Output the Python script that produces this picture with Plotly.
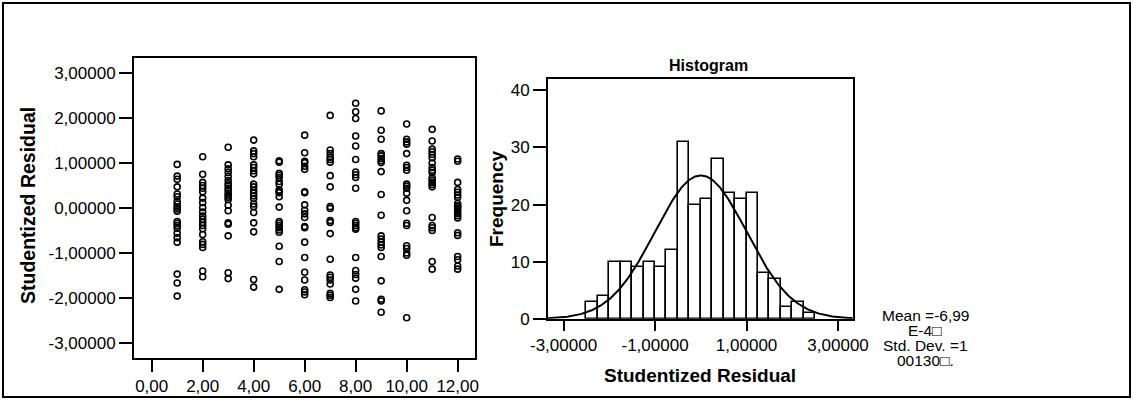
import math
import plotly.graph_objects as go

W, H = 1133, 401

# ---------------- data: studentized residuals by group (x = 1..12) ----------------
group_x = [1, 2, 3, 4, 5, 6, 7, 8, 9, 10, 11, 12]
g01 = [0.97, 0.71, 0.64, 0.47, 0.31, 0.25, 0.15, 0.09, 0.02, -0.02, -0.07, -0.30, -0.34, -0.39, -0.45, -0.56, -0.66, -0.76, -1.47, -1.67, -1.96]
g02 = [1.14, 0.75, 0.57, 0.50, 0.44, 0.36, 0.22, 0.12, 0.01, -0.09, -0.18, -0.25, -0.32, -0.39, -0.46, -0.59, -0.75, -0.81, -0.88, -1.40, -1.53]
g03 = [1.35, 0.96, 0.87, 0.79, 0.70, 0.61, 0.54, 0.50, 0.44, 0.39, 0.33, 0.28, 0.24, 0.19, 0.06, -0.06, -0.33, -0.36, -0.62, -1.44, -1.57]
g04 = [1.51, 1.27, 1.21, 1.14, 0.96, 0.90, 0.83, 0.76, 0.53, 0.47, 0.39, 0.33, 0.27, 0.21, 0.09, 0.03, -0.10, -0.33, -0.53, -1.59, -1.76]
g05 = [1.05, 1.02, 0.77, 0.73, 0.68, 0.59, 0.53, 0.40, 0.37, 0.34, 0.25, 0.02, -0.30, -0.34, -0.39, -0.44, -0.49, -0.54, -0.85, -1.19, -1.81]
g06 = [1.62, 1.23, 1.04, 1.01, 0.93, 0.86, 0.36, 0.34, 0.07, -0.05, -0.13, -0.21, -0.41, -0.44, -0.76, -1.10, -1.43, -1.60, -1.82, -1.87, -1.93]
g07 = [2.06, 1.29, 1.21, 1.13, 1.08, 1.02, 0.72, 0.47, 0.03, -0.01, -0.28, -0.32, -0.57, -1.14, -1.49, -1.54, -1.60, -1.69, -1.90, -1.94, -1.99]
g08 = [2.33, 2.14, 1.99, 1.60, 1.38, 1.08, 0.80, 0.74, 0.68, 0.44, -0.30, -0.34, -0.39, -0.44, -0.47, -1.10, -1.39, -1.48, -1.56, -1.81, -2.07]
g09 = [2.16, 1.73, 1.53, 1.21, 1.16, 1.10, 1.05, 1.01, 0.81, 0.30, -0.16, -0.62, -0.69, -0.76, -0.82, -0.88, -1.08, -1.62, -2.03, -2.07, -2.32]
g10 = [1.87, 1.53, 1.47, 1.42, 1.21, 0.95, 0.90, 0.84, 0.53, 0.49, 0.44, 0.33, 0.17, -0.06, -0.34, -0.39, -0.84, -0.90, -1.00, -1.05, -2.44]
g11 = [1.75, 1.49, 1.31, 1.25, 1.19, 1.12, 1.00, 0.90, 0.84, 0.79, 0.67, 0.62, 0.57, 0.52, 0.47, -0.21, -0.39, -0.44, -0.50, -1.19, -1.36]
g12 = [1.09, 1.04, 0.57, 0.41, 0.35, 0.29, 0.24, 0.10, 0.05, 0.03, -0.01, -0.06, -0.12, -0.17, -0.22, -0.55, -0.61, -1.08, -1.15, -1.29, -1.36]
groups = [g01, g02, g03, g04, g05, g06, g07, g08, g09, g10, g11, g12]

scatter_xticks = [0, 2, 4, 6, 8, 10, 12]
scatter_xticklabels = ["0,00", "2,00", "4,00", "6,00", "8,00", "10,00", "12,00"]
scatter_yticks = [-3, -2, -1, 0, 1, 2, 3]
scatter_yticklabels = ["-3,00000", "-2,00000", "-1,00000", "0,00000", "1,00000", "2,00000", "3,00000"]

# ---------------- data: histogram of studentized residuals ----------------
bin_left_edges = [-2.5, -2.25, -2.0, -1.75, -1.5, -1.25, -1.0, -0.75, -0.5, -0.25,
                  0.0, 0.25, 0.5, 0.75, 1.0, 1.25, 1.5, 1.75, 2.0, 2.25]
bin_counts = [3, 4, 10, 10, 9, 10, 9, 12, 31, 20, 21, 28, 22, 21, 22, 8, 7, 2, 3, 1]
bin_width = 0.25
hist_mean = -6.99e-4
hist_sd = 1.00130
hist_n = 252

hist_xticks = [-3, -1, 1, 3]
hist_xticklabels = ["-3,00000", "-1,00000", "1,00000", "3,00000"]
hist_yticks = [0, 10, 20, 30, 40]
hist_yticklabels = ["0", "10", "20", "30", "40"]

stats_lines = ["Mean =-6,99", "E-4\u25a1", "Std. Dev. =1", "00130\u25a1."]

# ---------------- figure ----------------
FONT = "Liberation Sans, Arial, sans-serif"
fig = go.Figure()

sx, sy = [], []
for gx, vals in zip(group_x, groups):
    sx.extend([gx] * len(vals))
    sy.extend(vals)

fig.add_trace(go.Scatter(
    x=sx, y=sy, mode="markers", xaxis="x", yaxis="y",
    marker=dict(symbol="circle-open", size=6, color="black", line=dict(width=1.6, color="black")),
    showlegend=False, hoverinfo="skip"))

bar_centers = [e + bin_width / 2 for e in bin_left_edges]
fig.add_trace(go.Bar(
    x=bar_centers, y=bin_counts, width=[bin_width] * len(bin_counts), xaxis="x2", yaxis="y2",
    marker=dict(color="white", line=dict(color="black", width=1.6)),
    showlegend=False, hoverinfo="skip"))

# fitted normal curve from mean / sd / N
cx = [-3.34 + i * (6.66 / 300) for i in range(301)]
scale = hist_n * bin_width / (hist_sd * math.sqrt(2 * math.pi))
cy = [scale * math.exp(-0.5 * ((v - hist_mean) / hist_sd) ** 2) for v in cx]
fig.add_trace(go.Scatter(x=cx, y=cy, mode="lines", xaxis="x2", yaxis="y2",
                         line=dict(color="black", width=2), showlegend=False, hoverinfo="skip"))

def px_x(p):
    return p / W

def px_y(p):
    return (H - p) / H

axis_common = dict(showline=True, linecolor="black", linewidth=2, mirror=True, automargin=False,
                   showgrid=False, zeroline=False, ticks="outside", tickcolor="black",
                   tickwidth=2, tickfont=dict(family=FONT, size=17, color="black"))

fig.update_layout(
    width=W, height=H, margin=dict(l=0, r=0, t=0, b=0, pad=0), autosize=False,
    paper_bgcolor="white", plot_bgcolor="white", bargap=0,
    xaxis=dict(domain=[px_x(134), px_x(475)], range=[-0.694, 12.68], anchor="y",
               tickmode="array", tickvals=scatter_xticks, ticktext=scatter_xticklabels,
               ticklen=12, **axis_common),
    yaxis=dict(domain=[px_y(357.7), px_y(58.3)], range=[-3.33, 3.33], anchor="x",
               tickmode="array", tickvals=scatter_yticks, ticktext=scatter_yticklabels,
               ticklen=13, **axis_common),
    xaxis2=dict(domain=[px_x(548), px_x(852.7)], range=[-3.34, 3.32], anchor="y2",
                tickmode="array", tickvals=hist_xticks, ticktext=hist_xticklabels,
                ticklen=10, **axis_common),
    yaxis2=dict(domain=[px_y(318.7), px_y(79)], range=[0, 42], anchor="x2",
                tickmode="array", tickvals=hist_yticks, ticktext=hist_yticklabels,
                ticklen=13, **axis_common),
)

ann = []
def add_text(text, x, y, size, angle=0):
    ann.append(dict(text=text, x=px_x(x), y=px_y(y), xref="paper", yref="paper",
                    xanchor="center", yanchor="middle", textangle=angle, showarrow=False,
                    font=dict(family=FONT, size=size, color="black")))

add_text("<b>Studentized Residual</b>", 28, 206, 19.5, -90)
add_text("<b>Frequency</b>", 497, 199, 19, -90)
add_text("<b>Histogram</b>", 708, 66, 16)
add_text("<b>Studentized Residual</b>", 700, 375, 19)
for i, line in enumerate(stats_lines):
    add_text(line, 925, 315 + i * 15, 15.5)
fig.update_layout(annotations=ann)

fig.add_shape(type="rect", xref="paper", yref="paper",
              x0=px_x(3), x1=px_x(1130), y0=px_y(397), y1=px_y(3),
              line=dict(color="black", width=2))

fig.write_html("out.html")
